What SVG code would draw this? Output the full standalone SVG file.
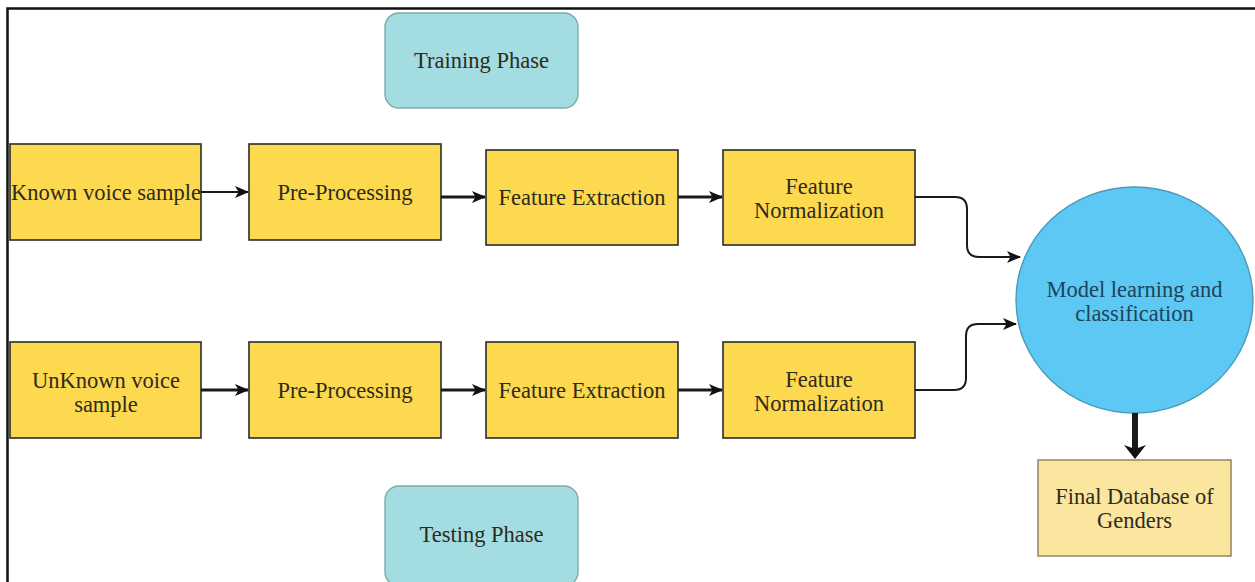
<svg xmlns="http://www.w3.org/2000/svg" width="1255" height="582" viewBox="0 0 1255 582">
  <style>
    .box { fill: #fdd94f; stroke: #2b2b2b; stroke-width: 1.6; }
    .phase { fill: #a3dde1; stroke: #7fa9ab; stroke-width: 1.4; }
    .final { fill: #fbe6a0; stroke: #8a7d5c; stroke-width: 1.4; }
    .lbl { font-family: "Liberation Serif", "DejaVu Serif", serif; font-size: 22.5px; fill: #2f2a1e; text-anchor: middle; }
    .clbl { font-family: "Liberation Serif", "DejaVu Serif", serif; font-size: 22.5px; fill: #1c4558; text-anchor: middle; }
    .conn { fill: none; stroke: #1a1a1a; stroke-width: 2; }
    .thick { stroke-width: 2.8; }
    .down { stroke-width: 6; }
  </style>
  <defs>
    <marker id="arr" viewBox="0 0 14 13" refX="13" refY="6.5" markerWidth="14" markerHeight="13" orient="auto" markerUnits="userSpaceOnUse">
      <path d="M0,0.5 L14,6.5 L0,12.5 L3.5,6.5 z" fill="#111"/>
    </marker>
    <marker id="arrBig" viewBox="0 0 22 17" refX="11" refY="9" markerWidth="22" markerHeight="17" orient="0" markerUnits="userSpaceOnUse">
      <path d="M0,3 L11,17 L22,3 L11,7 z" fill="#111"/>
    </marker>
  </defs>

  <rect x="0" y="0" width="1255" height="582" fill="#ffffff"/>
  <!-- frame -->
  <path d="M7.5,582 V8.5 H1255" fill="none" stroke="#111" stroke-width="2.5"/>

  <g id="training-phase">
    <rect class="phase" x="385" y="13" width="193" height="95" rx="14"/>
    <text class="lbl" x="481.5" y="68">Training Phase</text>
  </g>
  <g id="testing-phase">
    <rect class="phase" x="385" y="486" width="193" height="100" rx="14"/>
    <text class="lbl" x="481.5" y="542">Testing Phase</text>
  </g>

  <g id="known-sample">
    <rect class="box" x="10" y="144" width="191" height="96"/>
    <text class="lbl" x="106" y="200">Known voice sample</text>
  </g>
  <g id="pre-processing-1">
    <rect class="box" x="249" y="144" width="192" height="96"/>
    <text class="lbl" x="345" y="200">Pre-Processing</text>
  </g>
  <g id="feature-extraction-1">
    <rect class="box" x="486" y="150" width="192" height="95"/>
    <text class="lbl" x="582" y="205">Feature Extraction</text>
  </g>
  <g id="feature-normalization-1">
    <rect class="box" x="723" y="150" width="192" height="95"/>
    <text class="lbl" x="819" y="194">Feature</text>
    <text class="lbl" x="819" y="218">Normalization</text>
  </g>

  <g id="unknown-sample">
    <rect class="box" x="10" y="342" width="191" height="96"/>
    <text class="lbl" x="106" y="388">UnKnown voice</text>
    <text class="lbl" x="106" y="412">sample</text>
  </g>
  <g id="pre-processing-2">
    <rect class="box" x="249" y="342" width="192" height="96"/>
    <text class="lbl" x="345" y="398">Pre-Processing</text>
  </g>
  <g id="feature-extraction-2">
    <rect class="box" x="486" y="342" width="192" height="96"/>
    <text class="lbl" x="582" y="398">Feature Extraction</text>
  </g>
  <g id="feature-normalization-2">
    <rect class="box" x="723" y="342" width="192" height="96"/>
    <text class="lbl" x="819" y="387">Feature</text>
    <text class="lbl" x="819" y="411">Normalization</text>
  </g>

  <g id="model">
    <ellipse cx="1134.5" cy="300" rx="118.5" ry="113" fill="#5cc8f3" stroke="#4a9ab8" stroke-width="1.4"/>
    <text class="clbl" x="1134.5" y="297">Model learning and</text>
    <text class="clbl" x="1134.5" y="321">classification</text>
  </g>

  <g id="final-database">
    <rect class="final" x="1038" y="460" width="193" height="96"/>
    <text class="lbl" x="1134.5" y="504">Final Database of</text>
    <text class="lbl" x="1134.5" y="528">Genders</text>
  </g>

  <g id="connectors">
    <path class="conn" d="M201,192 H248" marker-end="url(#arr)"/>
    <path class="conn thick" d="M441,197 H485" marker-end="url(#arr)"/>
    <path class="conn thick" d="M678,197 H722" marker-end="url(#arr)"/>
    <path class="conn" d="M915,197 H955 Q967,197 967,209 V245 Q967,257 979,257 H1020" marker-end="url(#arr)"/>

    <path class="conn thick" d="M201,390 H248" marker-end="url(#arr)"/>
    <path class="conn thick" d="M441,390 H485" marker-end="url(#arr)"/>
    <path class="conn thick" d="M678,390 H722" marker-end="url(#arr)"/>
    <path class="conn" d="M915,390 H954 Q966,390 966,378 V336 Q966,324 978,324 H1016" marker-end="url(#arr)"/>

    <path class="conn down" d="M1135,413 V451" marker-end="url(#arrBig)"/>
  </g>
</svg>
